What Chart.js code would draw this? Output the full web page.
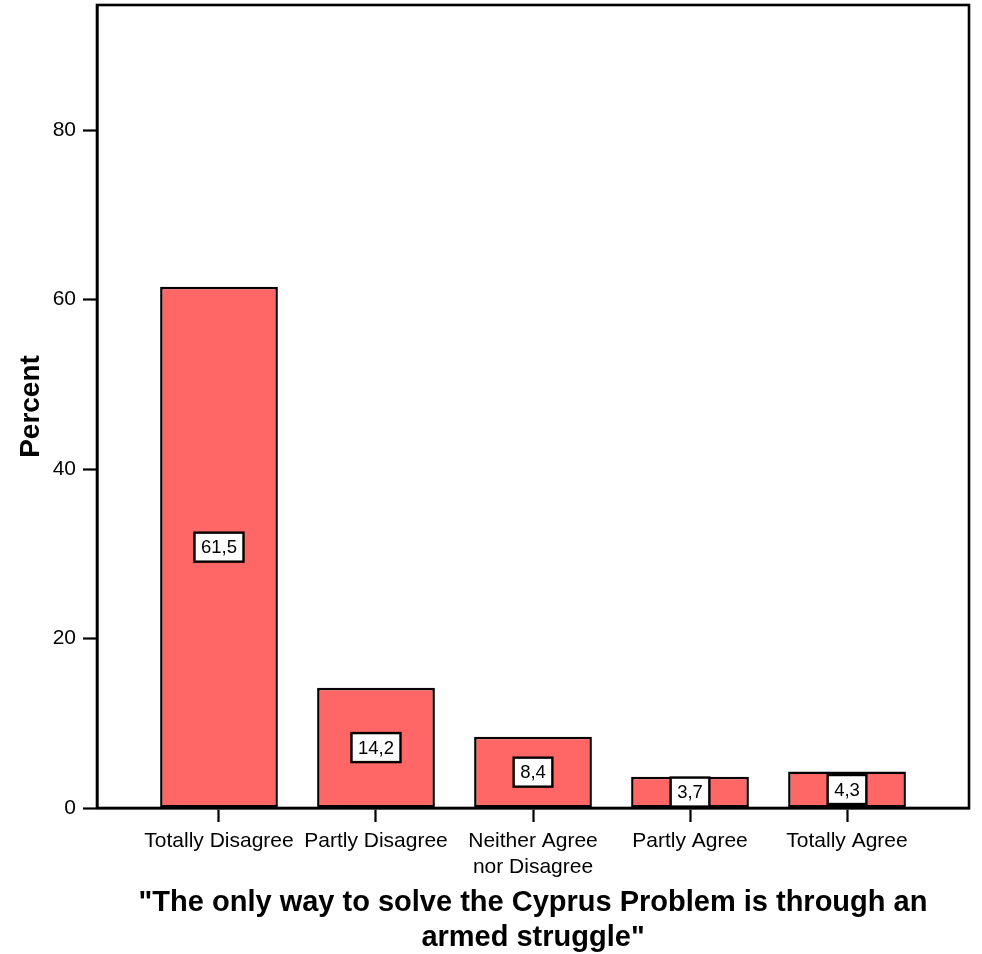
<!DOCTYPE html>
<html>
<head>
<meta charset="utf-8">
<script src="https://cdn.jsdelivr.net/npm/chart.js@4/dist/chart.umd.min.js"></script>
<style>
  html, body { margin: 0; padding: 0; background: #ffffff; }
  #wrap { width: 982px; height: 954px; }
</style>
</head>
<body>
<div id="wrap"><canvas id="c" width="982" height="954"></canvas></div>
<script>
const categories = ["Totally Disagree", "Partly Disagree", ["Neither Agree", "nor Disagree"], "Partly Agree", "Totally Agree"];
const percents = [61.5, 14.2, 8.4, 3.7, 4.3];
const yTicks = [0, 20, 40, 60, 80];
const xTitle = ["\"The only way to solve the Cyprus Problem is through an", "armed struggle\""];
const yTitle = "Percent";

const FONT = "'Liberation Sans', Arial, Helvetica, sans-serif";

const framePlugin = {
  id: 'frame',
  afterDraw(chart) {
    const {ctx, chartArea: a} = chart;
    ctx.save();
    ctx.strokeStyle = '#000';
    ctx.lineWidth = 2.6;
    ctx.strokeRect(a.left, a.top, a.right - a.left, a.bottom - a.top);
    ctx.restore();
  }
};

const labelPlugin = {
  id: 'valueBoxes',
  afterDatasetsDraw(chart) {
    const {ctx} = chart;
    const meta = chart.getDatasetMeta(0);
    ctx.save();
    ctx.font = "18.5px " + FONT;
    ctx.textAlign = 'center';
    ctx.textBaseline = 'middle';
    meta.data.forEach((bar, i) => {
      const txt = percents[i].toFixed(1).replace('.', ',');
      const cx = bar.x;
      const cy = (bar.y + bar.base) / 2;
      const w = ctx.measureText(txt).width + 13;
      const h = 29;
      ctx.fillStyle = '#fff';
      ctx.fillRect(cx - w / 2, cy - h / 2, w, h);
      ctx.strokeStyle = '#000';
      ctx.lineWidth = 2.4;
      ctx.strokeRect(cx - w / 2, cy - h / 2, w, h);
      ctx.fillStyle = '#000';
      ctx.fillText(txt, cx, cy + 1);
    });
    ctx.restore();
  }
};

new Chart(document.getElementById('c'), {
  type: 'bar',
  data: {
    datasets: [{
      data: percents.map((v, i) => ({x: i, y: v})),
      backgroundColor: '#ff6666',
      borderColor: '#000',
      borderWidth: 2.5,
      borderSkipped: false,
      barPercentage: 0.75,
      categoryPercentage: 1.0
    }]
  },
  options: {
    responsive: false,
    animation: false,
    devicePixelRatio: 1,
    layout: { padding: { left: 0, right: 13, top: 5, bottom: 0 } },
    plugins: { legend: { display: false }, tooltip: { enabled: false } },
    scales: {
      x: {
        type: 'linear',
        offset: false,
        min: -0.777,
        max: 4.777,
        afterFit(scale) { scale.height = 146; scale.paddingLeft = 0; scale.paddingRight = 0; },
        afterBuildTicks(scale) { scale.ticks = categories.map((c, i) => ({value: i})); },
        ticks: {
          stepSize: 1,
          includeBounds: false,
          autoSkip: false,
          maxRotation: 0,
          padding: 7,
          color: '#000',
          font: { family: FONT, size: 21 },
          callback: (v) => categories[v]
        },
        grid: { offset: false, drawOnChartArea: false, drawTicks: true, tickLength: 14, tickWidth: 2.2, tickColor: '#000' },
        border: { display: true, color: '#000', width: 2.6 },
        title: {
          display: true,
          text: xTitle,
          color: '#000',
          font: { family: FONT, size: 29, weight: 'bold' },
          padding: { top: 0, bottom: -1 }
        }
      },
      y: {
        min: 0,
        max: 94.75,
        afterFit(scale) { scale.width = 97; scale.paddingTop = 0; scale.paddingBottom = 0; },
        afterBuildTicks(scale) { scale.ticks = yTicks.map(v => ({value: v})); },
        ticks: {
          stepSize: 20,
          includeBounds: false,
          padding: 7,
          color: '#000',
          font: { family: FONT, size: 21 }
        },
        grid: { offset: false, drawOnChartArea: false, drawTicks: true, tickLength: 14, tickWidth: 2.2, tickColor: '#000' },
        border: { display: true, color: '#000', width: 2.6 },
        title: {
          display: true,
          text: yTitle,
          color: '#000',
          font: { family: FONT, size: 28, weight: 'bold' },
          padding: { top: 14, bottom: 0 }
        }
      }
    }
  },
  plugins: [framePlugin, labelPlugin]
});
</script>
</body>
</html>
